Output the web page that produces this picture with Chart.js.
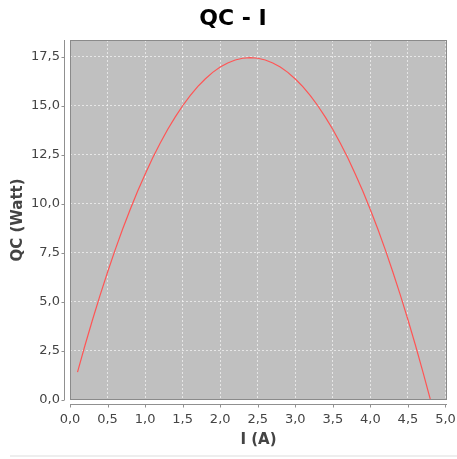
<!DOCTYPE html>
<html>
<head>
<meta charset="utf-8">
<script src="https://cdn.jsdelivr.net/npm/chart.js@4"></script>
<style>
  body { margin: 0; background: #fff; }
  #wrap { position: relative; width: 457px; height: 459px; }
  #bottomLine { position: absolute; left: 10px; top: 455px; width: 447px; height: 2px; background: #eeeeee; }
</style>
</head>
<body>
<div id="wrap">
  <canvas id="qcChart" width="457" height="459"></canvas>
  <div id="bottomLine"></div>
</div>
<script>
// current (A) vs cooling power QC (W)
const currents = [0.1,0.2,0.3,0.4,0.5,0.6,0.7,0.8,0.9,1.0,1.1,1.2,1.3,1.4,1.5,1.6,1.7,1.8,1.9,2.0,
  2.1,2.2,2.3,2.4,2.5,2.6,2.7,2.8,2.9,3.0,3.1,3.2,3.3,3.4,3.5,3.6,3.7,3.8,3.9,4.0,
  4.1,4.2,4.3,4.4,4.5,4.6,4.7,4.8];
const qcValues = [1.42,2.79,4.09,5.33,6.51,7.64,8.70,9.70,10.64,11.51,12.33,13.09,13.79,14.42,15.00,15.51,15.97,16.36,16.70,16.97,
  17.18,17.33,17.42,17.45,17.42,17.33,17.18,16.97,16.70,16.36,15.97,15.51,15.00,14.42,13.79,13.09,12.33,11.51,10.64,9.70,
  8.70,7.64,6.51,5.33,4.09,2.79,1.42,0.0];

const chartTitle = 'QC - I';
const xTitle = 'I (A)';
const yTitle = 'QC (Watt)';

const points = currents.map((c, i) => ({ x: c, y: qcValues[i] }));

const fontFam = "'DejaVu Sans', Verdana, sans-serif";
const commaFmt = v => v.toFixed(1).replace('.', ',');
const gridCol = 'rgba(255,255,255,0.6)';

// gray plot background, outline, offset axis lines and title
const plotDeco = {
  id: 'plotDeco',
  beforeDraw(chart) {
    const a = chart.chartArea, ctx = chart.ctx;
    ctx.save();
    ctx.fillStyle = '#c0c0c0';
    ctx.fillRect(a.left, a.top, a.right - a.left, a.bottom - a.top);
    ctx.restore();
  },
  afterDraw(chart) {
    const a = chart.chartArea, ctx = chart.ctx;
    const xs = chart.scales.x, ys = chart.scales.y;
    ctx.save();
    ctx.strokeStyle = '#8a8a8a';
    ctx.lineWidth = 1;
    ctx.strokeRect(a.left + 0.5, a.top + 0.5, a.right - a.left - 1, a.bottom - a.top - 1);

    // axis lines, 4px away from the plot
    const ax = a.left - 5.5, ay = a.bottom + 4.5;
    ctx.strokeStyle = '#909090';
    ctx.beginPath();
    ctx.moveTo(ax, a.top); ctx.lineTo(ax, a.bottom);
    ctx.moveTo(a.left, ay); ctx.lineTo(a.right, ay);
    ys.ticks.forEach(t => {
      const p = Math.round(ys.getPixelForValue(t.value)) + 0.5;
      ctx.moveTo(ax, p); ctx.lineTo(ax - 3, p);
    });
    xs.ticks.forEach(t => {
      const p = Math.round(xs.getPixelForValue(t.value)) + 0.5;
      ctx.moveTo(p, ay); ctx.lineTo(p, ay + 3);
    });
    ctx.stroke();

    ctx.fillStyle = '#000';
    ctx.font = 'bold 22px ' + fontFam;
    ctx.textAlign = 'center';
    ctx.textBaseline = 'alphabetic';
    ctx.fillText(chartTitle, 233, 25);
    ctx.restore();
  }
};

new Chart(document.getElementById('qcChart'), {
  type: 'scatter',
  data: {
    datasets: [{
      data: points,
      showLine: true,
      borderColor: '#ff5555',
      backgroundColor: '#ff5555',
      borderWidth: 1.2,
      pointRadius: 0,
      tension: 0
    }]
  },
  options: {
    responsive: false,
    animation: false,
    layout: { padding: { top: 40, left: 0, right: 0, bottom: 0 } },
    plugins: {
      legend: { display: false },
      title: { display: false },
      tooltip: { enabled: false }
    },
    scales: {
      x: {
        type: 'linear',
        min: 0,
        max: 5.02,
        border: { display: false, dash: [2, 2] },
        grid: {
          color: gridCol,
          lineWidth: 1,
          tickLength: 9,
          tickColor: 'transparent'
        },
        ticks: {
          stepSize: 0.5,
          includeBounds: false,
          padding: 3,
          color: '#444',
          font: { family: fontFam, size: 13 },
          maxRotation: 0,
          callback: v => commaFmt(v)
        },
        title: {
          display: true,
          text: xTitle,
          color: '#444',
          font: { family: fontFam, size: 15, weight: 'bold' },
          padding: { top: 0, bottom: 10 }
        },
        afterFit(s) {
          s.height = 59;
          s.paddingLeft = 0;
          s.paddingRight = 10;
        }
      },
      y: {
        type: 'linear',
        min: 0,
        max: 18.35,
        border: { display: false, dash: [2, 2] },
        grid: {
          color: gridCol,
          lineWidth: 1,
          tickLength: 7,
          tickColor: 'transparent'
        },
        ticks: {
          stepSize: 2.5,
          includeBounds: false,
          padding: 3,
          color: '#444',
          font: { family: fontFam, size: 13 },
          callback: v => commaFmt(v)
        },
        title: {
          display: true,
          text: yTitle,
          color: '#444',
          font: { family: fontFam, size: 15, weight: 'bold' },
          padding: { top: 9, bottom: 0 }
        },
        afterFit(s) {
          s.width = 70;
          s.paddingTop = 0;
          s.paddingBottom = 0;
        }
      }
    }
  },
  plugins: [plotDeco]
});
</script>
</body>
</html>
